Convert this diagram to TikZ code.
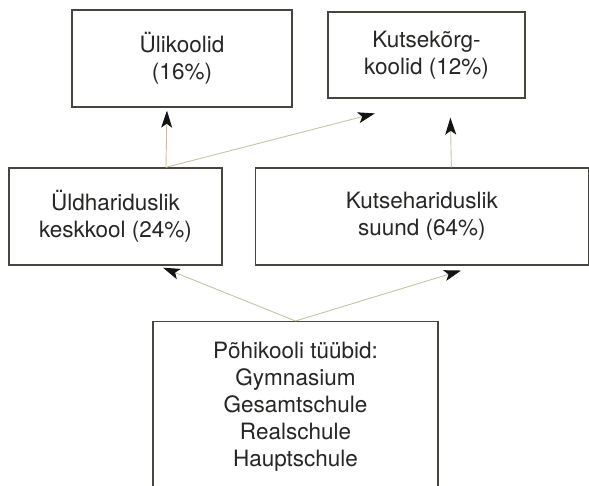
\documentclass[tikz,border=0pt]{standalone}
\usepackage{fontspec}
\setmainfont{TeX Gyre Heros}
\definecolor{mframe}{RGB}{70,70,62}
\definecolor{mtext}{RGB}{38,38,36}
\definecolor{mline}{RGB}{200,194,165}
\definecolor{mhead}{RGB}{20,20,20}
\usetikzlibrary{arrows.meta,positioning}
\tikzset{
  box/.style={rectangle,draw=mframe,line width=1.4pt,fill=white,
    align=center,text=mtext,font=\fontsize{22.5}{27}\selectfont,inner sep=0pt},
  arr/.style={-{Stealth[length=17pt,width=11pt,inset=4pt,color=mhead]},
    draw=mline,line width=0.9pt},
}
\begin{document}
\begin{tikzpicture}[x=1pt,y=1pt]
  \useasboundingbox (0,0) rectangle (589,486);

  % upper row
  \node[box,minimum width=220pt,minimum height=97pt] (uli) at (182,427.5)
    {Ülikoolid\\(16\%)};
  \node[box,minimum width=197pt,minimum height=86pt] (kkk) at (426.5,431)
    {Kutsekõrg-\\koolid (12\%)};

  % middle row
  \node[box,minimum width=213pt,minimum height=97pt] (yld) at (115.5,269.5)
    {Üldhariduslik\\keskkool (24\%)};
  \node[box,minimum width=333pt,minimum height=97pt,right=32pt of yld] (kut)
    {Kutsehariduslik\\suund (64\%)};

  % basic school
  \node[box,minimum width=285pt,minimum height=170pt,anchor=north] (pk) at (295.5,165)
    {Põhikooli tüübid:\\Gymnasium\\Gesamtschule\\Realschule\\Hauptschule};

  \draw[arr,shorten >=5.4pt] (pk.north) -- ([xshift=42.5pt]yld.south);
  \draw[arr,shorten >=16.6pt] (pk.north) -- ([xshift=55pt]kut.south);
  \draw[arr,shorten >=3pt] ([xshift=50.5pt]yld.north) -- ([xshift=-15pt]uli.south);
  \draw[arr,shorten >=59pt] ([xshift=50.5pt]yld.north) -- ([xshift=5.5pt]kkk.south);
  \draw[arr,shorten >=19pt] ([xshift=29.5pt]kut.north) -- ([xshift=23.5pt]kkk.south);
\end{tikzpicture}
\end{document}
